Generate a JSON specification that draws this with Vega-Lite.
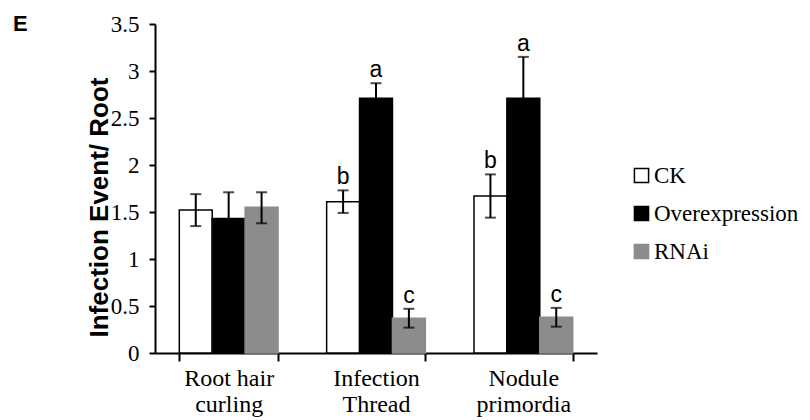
{
  "$schema": "https://vega.github.io/schema/vega-lite/v6.json",
  "width": 442,
  "height": 329,
  "autosize": "none",
  "padding": {"left": 155, "top": 24, "right": 213, "bottom": 67},
  "background": "white",
  "title": {"text": "E", "anchor": "start", "frame": "group", "dx": -142, "dy": 40, "offset": 0, "baseline": "alphabetic", "font": "Liberation Sans", "fontSize": 22, "fontWeight": "bold", "color": "black"},
  "config": {
    "view": {"stroke": null},
    "axis": {"grid": false, "domainColor": "black", "tickColor": "black", "labelColor": "black", "titleColor": "black", "domainWidth": 2, "tickWidth": 2}
  },
  "data": {
    "values": [
      {"category": "Root hair curling", "group": "CK", "value": 1.52, "lo": 1.35, "hi": 1.69, "letter": ""},
      {"category": "Root hair curling", "group": "Overexpression", "value": 1.43, "lo": 1.15, "hi": 1.71, "letter": ""},
      {"category": "Root hair curling", "group": "RNAi", "value": 1.55, "lo": 1.38, "hi": 1.71, "letter": ""},
      {"category": "Infection Thread", "group": "CK", "value": 1.61, "lo": 1.49, "hi": 1.73, "letter": "b"},
      {"category": "Infection Thread", "group": "Overexpression", "value": 2.71, "lo": 2.55, "hi": 2.87, "letter": "a"},
      {"category": "Infection Thread", "group": "RNAi", "value": 0.37, "lo": 0.27, "hi": 0.47, "letter": "c"},
      {"category": "Nodule primordia", "group": "CK", "value": 1.67, "lo": 1.44, "hi": 1.9, "letter": "b"},
      {"category": "Nodule primordia", "group": "Overexpression", "value": 2.71, "lo": 2.27, "hi": 3.15, "letter": "a"},
      {"category": "Nodule primordia", "group": "RNAi", "value": 0.38, "lo": 0.28, "hi": 0.48, "letter": "c"}
    ]
  },
  "encoding": {
    "x": {
      "field": "category", "type": "nominal",
      "sort": ["Root hair curling", "Infection Thread", "Nodule primordia"],
      "scale": {"paddingInner": 0.33, "paddingOuter": 0.165},
      "axis": {
        "title": null, "labelAngle": 0, "tickBand": "extent", "tickSize": 8,
        "labelFont": "Liberation Serif", "labelFontSize": 24, "labelPadding": 5,
        "labelLineHeight": 26, "labelBaseline": "top",
        "labelExpr": "datum.label == 'Root hair curling' ? ['Root hair', 'curling'] : split(datum.label, ' ')"
      }
    },
    "xOffset": {"field": "group", "type": "nominal", "sort": ["CK", "Overexpression", "RNAi"]}
  },
  "layer": [
    {
      "mark": {"type": "bar", "strokeWidth": 1.5},
      "encoding": {
        "y": {
          "field": "value", "type": "quantitative",
          "scale": {"domain": [0, 3.5], "nice": false},
          "axis": {
            "title": "Infection Event/ Root", "values": [0, 0.5, 1, 1.5, 2, 2.5, 3, 3.5],
            "format": "~g", "tickSize": 6, "labelPadding": 10,
            "labelFont": "Liberation Serif", "labelFontSize": 23,
            "titleFont": "Liberation Sans", "titleFontSize": 26, "titleFontWeight": "bold",
            "titleAngle": 270, "titleAlign": "center", "titleBaseline": "alphabetic",
            "titleX": -48, "titleY": 183
          }
        },
        "fill": {
          "field": "group", "type": "nominal",
          "scale": {"domain": ["CK", "Overexpression", "RNAi"], "range": ["#ffffff", "#000000", "#8c8c8c"]},
          "legend": {
            "title": null, "orient": "none", "legendX": 475, "legendY": 140,
            "symbolType": "square", "symbolSize": 200, "symbolStrokeWidth": 1.5,
            "labelFont": "Liberation Serif", "labelFontSize": 23, "labelColor": "black",
            "labelOffset": 1, "rowPadding": 14
          }
        },
        "stroke": {
          "field": "group", "type": "nominal",
          "scale": {"domain": ["CK", "Overexpression", "RNAi"], "range": ["#000000", "#000000", "#8c8c8c"]},
          "legend": null
        }
      }
    },
    {
      "mark": {"type": "rule", "color": "black", "strokeWidth": 2},
      "encoding": {
        "y": {"field": "lo", "type": "quantitative"},
        "y2": {"field": "hi"}
      }
    },
    {
      "mark": {"type": "tick", "color": "black", "size": 11, "thickness": 2},
      "encoding": {"y": {"field": "lo", "type": "quantitative"}}
    },
    {
      "mark": {"type": "tick", "color": "black", "size": 11, "thickness": 2},
      "encoding": {"y": {"field": "hi", "type": "quantitative"}}
    },
    {
      "mark": {"type": "text", "baseline": "alphabetic", "dy": -6, "font": "Liberation Sans", "fontSize": 23, "color": "black"},
      "encoding": {
        "y": {"field": "hi", "type": "quantitative"},
        "text": {"field": "letter"}
      }
    }
  ]
}
